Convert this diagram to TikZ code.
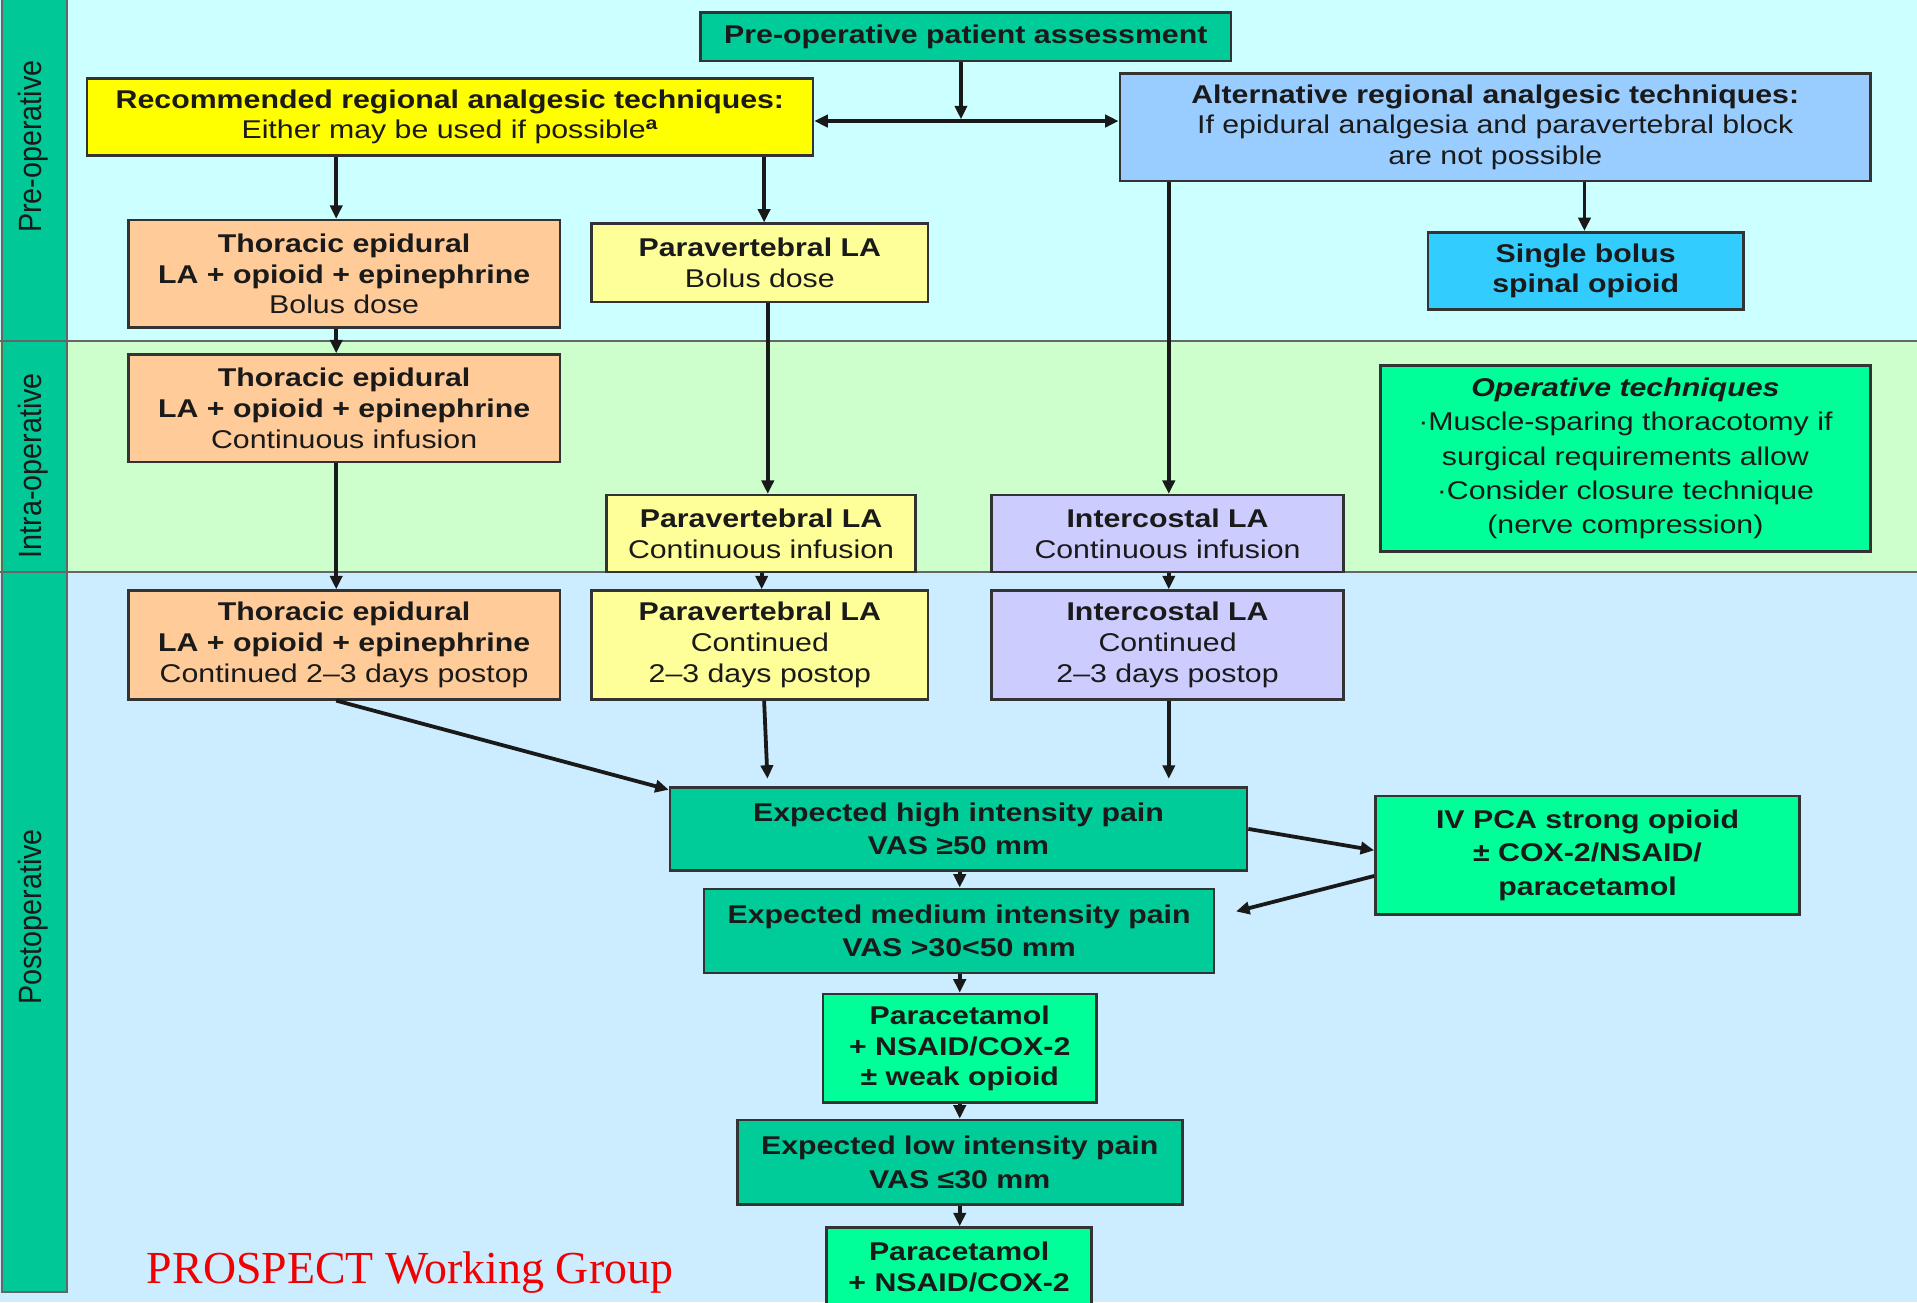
\documentclass[tikz,border=0pt]{standalone}
\usepackage{fontspec}
\setmainfont[FakeStretch=1.18]{Liberation Sans}
\newfontfamily\lblfont{Liberation Sans}
\newfontfamily\redserif{Liberation Serif}
\usetikzlibrary{arrows.meta,calc}
\definecolor{preBG}{HTML}{CCFFFF}
\definecolor{intraBG}{HTML}{CCFFCC}
\definecolor{postBG}{HTML}{CCECFF}
\definecolor{bandC}{HTML}{00C896}
\definecolor{cTeal}{HTML}{00CC99}
\definecolor{cMint}{HTML}{00FF99}
\definecolor{cYellow}{HTML}{FFFF00}
\definecolor{cPaleY}{HTML}{FFFF99}
\definecolor{cPeach}{HTML}{FFCC99}
\definecolor{cAltBlue}{HTML}{99CCFF}
\definecolor{cSky}{HTML}{33CCFF}
\definecolor{cLav}{HTML}{CCCCFF}
\definecolor{txt}{HTML}{1A1A1A}
\definecolor{cRed}{HTML}{F00000}
\tikzset{
  box/.style={draw=black!80, line width=2.1pt, inner sep=0pt, align=center,
    text=txt, font=\fontsize{21}{25}\selectfont},
  wide/.style={font=\fontsize{21}{27.5}\selectfont},
  arr/.style={draw=black!90, line width=3.1pt, -{Triangle[length=11pt,width=10pt]}},
  darr/.style={draw=black!90, line width=3.1pt, {Triangle[length=11pt,width=10pt]}-{Triangle[length=11pt,width=10pt]}},
  divline/.style={draw=black!60, line width=1.4pt},
  phase/.style={rotate=90, text=txt, inner sep=0pt, font=\lblfont\fontsize{23.5}{23.5}\selectfont}
}
\begin{document}
\begin{tikzpicture}[x=1pt,y=-1pt]
\clip (0,0) rectangle (1568,1065);
% backgrounds
\fill[preBG] (0,0) rectangle (1568,279);
\fill[intraBG] (0,279) rectangle (1568,468);
\fill[postBG] (0,468) rectangle (1568,1065);
\draw[fill=bandC, draw=black!60, line width=1.4pt] (1.5,-5) rectangle (55,1057);
\draw[divline] (0,279) -- (1568,279);
\draw[divline] (0,468) -- (1568,468);
% phase labels
\node[phase] (lpre) at (27,120) {\scalebox{1}[1.12]{Pre-operative}};
\node[phase] (lintra) at (27,381) {\scalebox{1}[1.12]{Intra-operative}};
\node[phase] (lpost) at (27,750) {\scalebox{1}[1.12]{Postoperative}};
% nodes
\node[box, fill=cTeal, minimum width=434, minimum height=40] (pre) at (790,30)
  {\textbf{Pre-operative patient assessment}};
\node[box, fill=cYellow, minimum width=594, minimum height=63] (rec) at (368,95.5)
  {\textbf{Recommended regional analgesic techniques:}\\Either may be used if possible\textsuperscript{\textbf{a}}};
\node[box, fill=cAltBlue, minimum width=614, minimum height=88] (alt) at (1223,104)
  {\textbf{Alternative regional analgesic techniques:}\\If epidural analgesia and paravertebral block\\are not possible};
\node[box, fill=cPeach, minimum width=353, minimum height=88] (th1) at (281.5,224)
  {\textbf{Thoracic epidural}\\\textbf{LA + opioid + epinephrine}\\Bolus dose};
\node[box, fill=cPaleY, minimum width=275, minimum height=64] (pv1) at (621.5,215)
  {\textbf{Paravertebral LA}\\Bolus dose};
\node[box, fill=cSky, minimum width=258, minimum height=63] (sb) at (1297,221.5)
  {\textbf{Single bolus}\\\textbf{spinal opioid}};
\node[box, fill=cPeach, minimum width=353, minimum height=88] (th2) at (281.5,334)
  {\textbf{Thoracic epidural}\\\textbf{LA + opioid + epinephrine}\\Continuous infusion};
\node[box, fill=cMint, minimum width=401, minimum height=152, font=\fontsize{21}{28}\selectfont] (op) at (1329.5,375)
  {\textbf{\textit{Operative techniques}}\\·Muscle-sparing thoracotomy if\\surgical requirements allow\\·Consider closure technique\\(nerve compression)};
\node[box, fill=cPaleY, minimum width=253, minimum height=63] (pv2) at (622.5,436.5)
  {\textbf{Paravertebral LA}\\Continuous infusion};
\node[box, fill=cLav, minimum width=288, minimum height=63] (ic1) at (955,436.5)
  {\textbf{Intercostal LA}\\Continuous infusion};
\node[box, fill=cPeach, minimum width=353, minimum height=89] (th3) at (281.5,527.5)
  {\textbf{Thoracic epidural}\\\textbf{LA + opioid + epinephrine}\\Continued 2–3 days postop};
\node[box, fill=cPaleY, minimum width=275, minimum height=89] (pv3) at (621.5,527.5)
  {\textbf{Paravertebral LA}\\Continued\\2–3 days postop};
\node[box, fill=cLav, minimum width=288, minimum height=89] (ic2) at (955,527.5)
  {\textbf{Intercostal LA}\\Continued\\2–3 days postop};
\node[box, wide, fill=cTeal, minimum width=472, minimum height=68] (high) at (784,678)
  {\textbf{Expected high intensity pain}\\\textbf{VAS ≥50 mm}};
\node[box, wide, fill=cMint, minimum width=347, minimum height=97] (pca) at (1298.5,699.5)
  {\textbf{IV PCA strong opioid}\\\textbf{± COX-2/NSAID/}\\\textbf{paracetamol}};
\node[box, wide, fill=cTeal, minimum width=417, minimum height=69] (med) at (784.5,761.5)
  {\textbf{Expected medium intensity pain}\\\textbf{VAS >30<50 mm}};
\node[box, fill=cMint, minimum width=224, minimum height=89] (par1) at (785,857.5)
  {\textbf{Paracetamol}\\\textbf{+ NSAID/COX-2}\\\textbf{± weak opioid}};
\node[box, wide, fill=cTeal, minimum width=364, minimum height=69] (low) at (785,950.5)
  {\textbf{Expected low intensity pain}\\\textbf{VAS ≤30 mm}};
\node[box, fill=cMint, minimum width=217, minimum height=89, anchor=north] (par2) at (784.5,1003)
  {\textbf{Paracetamol}\\\textbf{+ NSAID/COX-2}\\\phantom{X}};
% helper coordinates
\coordinate (J) at (786,99);
\coordinate (xa) at (275,0);
\coordinate (xb) at (625,0);
\coordinate (xc) at (623,0);
\coordinate (xd) at (628,0);
\coordinate (xi) at (956,0);
\coordinate (xs) at (1296,0);
\coordinate (xm) at (785,0);
\coordinate (medtip) at ($(med.east)+(17,-16)$);
% connectors
\draw[arr] (pre.south -| J) -- ($(J)+(0,-1.5)$);
\draw[darr] (J -| rec.east) -- (J -| alt.west);
\draw[arr] (rec.south -| xa) -- (th1.north -| xa);
\draw[arr] (rec.south -| xb) -- (pv1.north -| xb);
\draw[arr] (alt.south -| xs) -- (sb.north -| xs);
\draw[arr] (alt.south -| xi) -- (ic1.north -| xi);
\draw[arr] (th1.south -| xa) -- (th2.north -| xa);
\draw[arr] (th2.south -| xa) -- (th3.north -| xa);
\draw[arr] (pv1.south -| xd) -- (pv2.north -| xd);
\draw[arr] (pv2.south -| xc) -- (pv3.north -| xc);
\draw[arr] (ic1.south -| xi) -- (ic2.north -| xi);
\draw[arr] (th3.south -| xa) -- ($(high.north west)+(0,3)$);
\draw[arr, shorten >=6pt] (pv3.south -| xb) -- (high.north -| xd);
\draw[arr, shorten >=6pt] (ic2.south -| xi) -- (high.north -| xi);
\draw[arr] (high.east) -- ($(pca.west)+(0,-4)$);
\draw[arr] ($(pca.west)+(0,17)$) -- (medtip);
\draw[arr] (high.south -| xm) -- (med.north -| xm);
\draw[arr] (med.south -| xm) -- (par1.north -| xm);
\draw[arr] (par1.south -| xm) -- (low.north -| xm);
\draw[arr] (low.south -| xm) -- (par2.north -| xm);
% credit
\node[anchor=base west, inner sep=0pt, text=cRed, font=\redserif\fontsize{37.5}{40}\selectfont] (credit) at (120,1050) {PROSPECT Working Group};
\end{tikzpicture}
\end{document}
